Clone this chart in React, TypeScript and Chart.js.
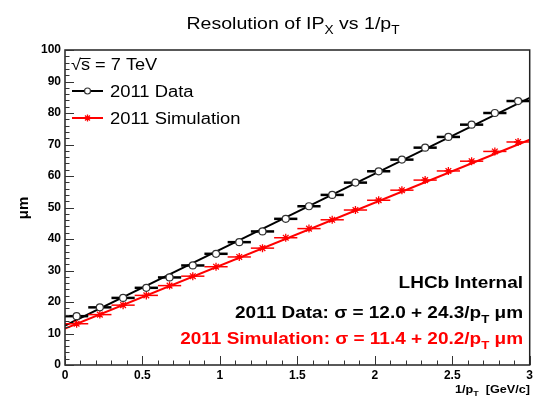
import { useEffect, useRef } from 'react';
import { Chart, registerables } from 'chart.js';

Chart.register(...registerables);

// ---- data ----
const binCenters = [0.075, 0.225, 0.375, 0.525, 0.675, 0.825, 0.975, 1.125, 1.275, 1.425,
  1.575, 1.725, 1.875, 2.025, 2.175, 2.325, 2.475, 2.625, 2.775, 2.925];
const binHalfWidth = 0.075;
const dataValues = [15.5, 18.3, 21.3, 24.5, 27.8, 31.6, 35.3, 39.0, 42.4, 46.4,
  50.4, 54.0, 57.9, 61.5, 65.2, 69.0, 72.4, 76.3, 80.0, 83.8];
const simValues = [13.1, 16.0, 19.0, 22.1, 25.2, 28.2, 31.2, 34.3, 37.1, 40.4,
  43.3, 46.1, 49.2, 52.3, 55.5, 58.7, 61.6, 64.7, 67.8, 70.8];
const dataFitX = [0, 3];
const dataFitY = [12.5, 84.8];
const simFitX = [0, 3];
const simFitY = [11.6, 71.5];

const titleText = ['Resolution of IP', 'X', ' vs 1/p', 'T'];
const energyLabel = ['\u221A', 's = 7 TeV'];
const seriesNames = ['2011 Data', '2011 Simulation'];
const fitLabels = [
  ['2011 Data: \u03C3 = 12.0 + 24.3/p', 'T', ' \u03BCm'],
  ['2011 Simulation: \u03C3 = 11.4 + 20.2/p', 'T', ' \u03BCm'],
];
const internalLabel = 'LHCb Internal';
const xTitle = ['1/p', 'T', '  [GeV/c]'];
const yTitle = '\u03BCm';

const FONT = '"Liberation Sans", Arial, Helvetica, sans-serif';
const RED = '#ff0000';

function drawRich(ctx: CanvasRenderingContext2D, parts: string[], x: number, y: number,
  size: number, bold: boolean, color: string, align: 'left' | 'center' | 'right', sx = 1.15) {
  const w = bold ? 'bold ' : '';
  let total = 0;
  parts.forEach((t, i) => {
    const s = i % 2 === 1 ? size * 0.7 : size;
    ctx.font = `${w}${s}px ${FONT}`;
    total += ctx.measureText(t).width;
  });
  const start = align === 'left' ? x : align === 'center' ? x - (total * sx) / 2 : x - total * sx;
  ctx.save();
  ctx.translate(start, y);
  ctx.scale(sx, 1);
  ctx.fillStyle = color;
  ctx.textAlign = 'left';
  ctx.textBaseline = 'alphabetic';
  let cx = 0;
  parts.forEach((t, i) => {
    const sub = i % 2 === 1;
    const s = sub ? size * 0.7 : size;
    ctx.font = `${w}${s}px ${FONT}`;
    ctx.fillText(t, cx, sub ? size * 0.3 : 0);
    cx += ctx.measureText(t).width;
  });
  ctx.restore();
}

function drawStar(ctx: CanvasRenderingContext2D, x: number, y: number, r: number) {
  ctx.beginPath();
  for (let k = 0; k < 4; k++) {
    const a = (k * Math.PI) / 4;
    ctx.moveTo(x - r * Math.cos(a), y - r * Math.sin(a));
    ctx.lineTo(x + r * Math.cos(a), y + r * Math.sin(a));
  }
  ctx.stroke();
}

const errorBarPlugin = {
  id: 'errorBars',
  beforeDatasetDraw(chart: any, args: any) {
    const ds = chart.data.datasets[args.index];
    if (!ds.errColor) return;
    const ctx = chart.ctx;
    const xs = chart.scales.x;
    const ys = chart.scales.y;
    ctx.save();
    ctx.strokeStyle = ds.errColor;
    ctx.lineWidth = ds.errWidth;
    ds.data.forEach((p: any) => {
      const py = ys.getPixelForValue(p.y);
      ctx.beginPath();
      ctx.moveTo(xs.getPixelForValue(p.x - binHalfWidth), py);
      ctx.lineTo(xs.getPixelForValue(p.x + binHalfWidth), py);
      ctx.stroke();
    });
    ctx.restore();
  },
};

const decorPlugin = {
  id: 'decor',
  afterDraw(chart: any) {
    const ctx: CanvasRenderingContext2D = chart.ctx;
    const { left, right, top, bottom } = chart.chartArea;
    const xs = chart.scales.x;
    const ys = chart.scales.y;
    ctx.save();
    // frame
    ctx.strokeStyle = '#222';
    ctx.lineWidth = 1.5;
    ctx.strokeRect(left, top, right - left, bottom - top);
    // ticks
    ctx.lineWidth = 1;
    ctx.strokeStyle = '#333';
    ctx.beginPath();
    for (let i = 0; i <= 50; i++) {
      const py = Math.round(ys.getPixelForValue(i * 2)) + 0.5;
      const len = i % 5 === 0 ? 9 : 4.5;
      ctx.moveTo(left, py);
      ctx.lineTo(left + len, py);
    }
    for (let i = 0; i <= 30; i++) {
      const px = Math.round(xs.getPixelForValue(i * 0.1)) + 0.5;
      const len = i % 5 === 0 ? 9 : 4.5;
      ctx.moveTo(px, bottom);
      ctx.lineTo(px, bottom - len);
    }
    ctx.stroke();

    // title
    drawRich(ctx, titleText, 293, 28.5, 17, false, '#000', 'center');
    // legend: sqrt(s) with overline
    ctx.font = `15.8px ${FONT}`;
    const sqrtW = ctx.measureText(energyLabel[0]).width * 1.15;
    const sW = ctx.measureText('s').width * 1.15;
    drawRich(ctx, [energyLabel[0]], 71, 70, 15.8, false, '#000', 'left');
    drawRich(ctx, [energyLabel[1]], 71 + sqrtW, 70, 15.8, false, '#000', 'left');
    ctx.lineWidth = 1;
    ctx.strokeStyle = '#000';
    ctx.beginPath();
    ctx.moveTo(71 + sqrtW - 1, 58.5);
    ctx.lineTo(71 + sqrtW + sW + 0.5, 58.5);
    ctx.stroke();

    ctx.lineWidth = 2;
    ctx.strokeStyle = '#000';
    ctx.beginPath();
    ctx.moveTo(72, 91);
    ctx.lineTo(103, 91);
    ctx.stroke();
    ctx.lineWidth = 1.2;
    ctx.strokeStyle = '#333';
    ctx.fillStyle = '#fff';
    ctx.beginPath();
    ctx.arc(87.5, 91, 3, 0, Math.PI * 2);
    ctx.fill();
    ctx.stroke();
    drawRich(ctx, [seriesNames[0]], 110, 96.5, 16, false, '#000', 'left');
    ctx.lineWidth = 2;
    ctx.strokeStyle = RED;
    ctx.beginPath();
    ctx.moveTo(72, 118);
    ctx.lineTo(103, 118);
    ctx.stroke();
    ctx.lineWidth = 1.3;
    drawStar(ctx, 87.5, 118, 3.5);
    drawRich(ctx, [seriesNames[1]], 110, 123.5, 16, false, '#000', 'left');

    // annotations
    drawRich(ctx, [internalLabel], 523, 288, 16.5, true, '#000', 'right');
    drawRich(ctx, fitLabels[0], 523, 318, 16.5, true, '#000', 'right');
    drawRich(ctx, fitLabels[1], 523, 344, 16.5, true, RED, 'right');

    // axis titles
    drawRich(ctx, xTitle, 530, 393, 11, true, '#000', 'right');
    ctx.save();
    ctx.translate(28, 208);
    ctx.rotate(-Math.PI / 2);
    ctx.font = `bold 15px ${FONT}`;
    ctx.fillStyle = '#000';
    ctx.textAlign = 'center';
    ctx.textBaseline = 'alphabetic';
    ctx.fillText(yTitle, 0, 0);
    ctx.restore();
    ctx.restore();
  },
};

export default function App() {
  const ref = useRef<HTMLCanvasElement | null>(null);
  useEffect(() => {
    if (!ref.current) return;
    const tickFont = { family: FONT, size: 12, weight: 'bold' as const };
    const chart = new Chart(ref.current, {
      type: 'scatter',
      data: {
        datasets: [
          {
            label: seriesNames[0],
            data: binCenters.map((x, i) => ({ x, y: dataValues[i] })),
            pointStyle: 'circle',
            pointRadius: 3.5,
            pointBackgroundColor: '#fff',
            pointBorderColor: '#333',
            pointBorderWidth: 1.2,
            showLine: false,
            errColor: '#000',
            errWidth: 2.5,
          } as any,
          {
            label: seriesNames[1],
            data: binCenters.map((x, i) => ({ x, y: simValues[i] })),
            pointStyle: 'star',
            pointRadius: 4,
            pointBackgroundColor: RED,
            pointBorderColor: RED,
            pointBorderWidth: 1.3,
            showLine: false,
            errColor: RED,
            errWidth: 1.5,
          } as any,
          {
            label: 'data fit',
            data: dataFitX.map((x, i) => ({ x, y: dataFitY[i] })),
            showLine: true,
            borderColor: '#000',
            borderWidth: 2,
            pointRadius: 0,
          },
          {
            label: 'sim fit',
            data: simFitX.map((x, i) => ({ x, y: simFitY[i] })),
            showLine: true,
            borderColor: RED,
            borderWidth: 2,
            pointRadius: 0,
          },
        ],
      },
      options: {
        animation: false,
        responsive: true,
        maintainAspectRatio: false,
        layout: { padding: { top: 50, right: 4, left: 0, bottom: 0 } },
        plugins: { legend: { display: false }, title: { display: false }, tooltip: { enabled: false } },
        scales: {
          x: {
            type: 'linear',
            min: 0,
            max: 3,
            grid: { display: false, drawTicks: false },
            border: { display: false },
            ticks: {
              stepSize: 0.5,
              font: tickFont,
              color: '#000',
              padding: 3,
              maxRotation: 0,
              autoSkip: false,
              callback: (v: any) => (Number.isInteger(v) ? String(v) : Number(v).toFixed(1)),
            },
            afterFit: (s: any) => {
              s.height = 34;
              s.paddingLeft = 0;
              s.paddingRight = 0;
            },
          },
          y: {
            type: 'linear',
            min: 0,
            max: 100,
            grid: { display: false, drawTicks: false },
            border: { display: false },
            ticks: { stepSize: 10, font: tickFont, color: '#000', padding: 4 },
            afterFit: (s: any) => {
              s.width = 65;
              s.paddingTop = 0;
              s.paddingBottom = 0;
            },
          },
        },
      },
      plugins: [errorBarPlugin, decorPlugin],
    });
    return () => chart.destroy();
  }, []);
  return (
    <div style={{ position: 'fixed', left: 0, top: 0, width: 535, height: 399, background: '#fff' }}>
      <canvas ref={ref} />
    </div>
  );
}
